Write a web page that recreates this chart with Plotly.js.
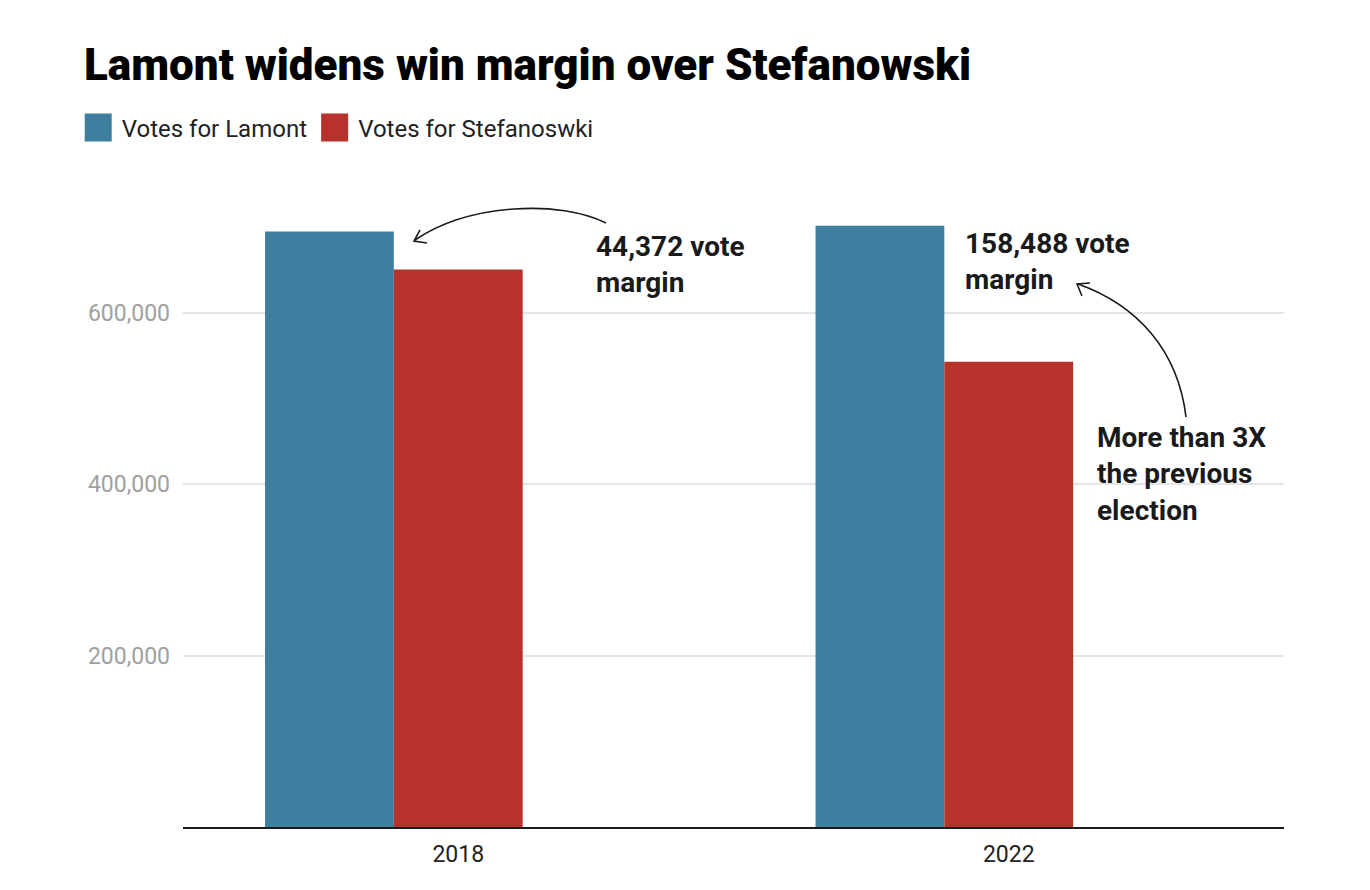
<!DOCTYPE html>
<html>
<head>
<meta charset="utf-8">
<script src="https://cdn.plot.ly/plotly-3.0.1.min.js"></script>
<style>
  html, body { margin: 0; padding: 0; background: #fff; }
  #chart { width: 1370px; height: 890px; }
</style>
</head>
<body>
<div id="chart"></div>
<script>
// election results
var years = ['2018', '2022'];
var lamontVotes = [694510, 701100];
var stefanowskiVotes = [650138, 542612];
var seriesNames = ['Votes for Lamont', 'Votes for Stefanoswki'];
var yTicks = [200000, 400000, 600000];

// plot box in pixels, used to place the hand drawn arrows
var L = 183, R = 1284, T = 141, B = 827;
function pt(x, y) {
  return ((x - L) / (R - L)).toFixed(4) + ',' + ((B - y) / (B - T)).toFixed(4);
}

var lamont = {
  x: years,
  y: lamontVotes,
  type: 'bar',
  name: seriesNames[0],
  width: 0.234,
  offset: -0.351,
  marker: { color: '#3e7fa0' },
  hoverinfo: 'y'
};
var stefanowski = {
  x: years,
  y: stefanowskiVotes,
  type: 'bar',
  name: seriesNames[1],
  width: 0.234,
  offset: -0.117,
  marker: { color: '#b6322a' },
  hoverinfo: 'y'
};

var arrowStyle = { color: '#1a1a1a', width: 1.6 };
var shapes = [
  // 2018 arrow, curving over to the blue bar
  { type: 'path', xref: 'paper', yref: 'paper', line: arrowStyle,
    path: 'M' + pt(606, 223) + ' C' + pt(560, 200) + ' ' + pt(470, 203) + ' ' + pt(415, 240) },
  { type: 'path', xref: 'paper', yref: 'paper', line: arrowStyle,
    path: 'M' + pt(420, 230) + ' L' + pt(414, 241) + ' L' + pt(427, 243) },
  // 2022 arrow, from the note up to the margin label
  { type: 'path', xref: 'paper', yref: 'paper', line: arrowStyle,
    path: 'M' + pt(1186, 417) + ' C' + pt(1178, 350) + ' ' + pt(1137, 305) + ' ' + pt(1078, 284) },
  { type: 'path', xref: 'paper', yref: 'paper', line: arrowStyle,
    path: 'M' + pt(1082, 296) + ' L' + pt(1077, 284) + ' L' + pt(1090, 283) }
];

var noteFont = { family: 'Roboto', size: 28, color: '#1a1a1a', weight: 700 };
var annotations = [
  { xref: 'paper', yref: 'paper', x: 0.373, y: 0.820, xanchor: 'left', yanchor: 'middle',
    align: 'left', showarrow: false, font: noteFont, text: '44,372 vote<br>margin' },
  { xref: 'paper', yref: 'paper', x: 0.708, y: 0.825, xanchor: 'left', yanchor: 'middle',
    align: 'left', showarrow: false, font: noteFont, text: '158,488 vote<br>margin' },
  { xref: 'paper', yref: 'paper', x: 0.828, y: 0.5146, xanchor: 'left', yanchor: 'middle',
    align: 'left', showarrow: false, font: noteFont, text: 'More than 3X<br>the previous<br>election' }
];

var layout = {
  width: 1370,
  height: 890,
  font: { family: 'Roboto, sans-serif', color: '#222' },
  paper_bgcolor: '#fff',
  plot_bgcolor: '#fff',
  title: {
    text: 'Lamont widens win margin over Stefanowski',
    font: { family: 'Roboto', size: 44, weight: 900, color: '#000' },
    xref: 'container', x: 84 / 1370, xanchor: 'left',
    yref: 'container', y: 1 - 49 / 890, yanchor: 'top'
  },
  showlegend: true,
  legend: {
    orientation: 'h',
    x: -0.092, xanchor: 'left',
    y: 1.019, yanchor: 'middle',
    font: { size: 24, color: '#222' },
    traceorder: 'normal'
  },
  barmode: 'group',
  margin: { l: L, r: 1370 - R, t: T, b: 890 - B },
  xaxis: {
    type: 'category',
    showline: true,
    linecolor: '#1a1a1a',
    linewidth: 2,
    ticks: '',
    ticklabelstandoff: 5,
    tickfont: { size: 23, color: '#222' },
    showgrid: false
  },
  yaxis: {
    range: [0, 800000],
    tickvals: yTicks,
    tickformat: ',',
    showgrid: true,
    gridcolor: '#e5e5e5',
    gridwidth: 1.5,
    zeroline: false,
    ticks: '',
    ticklabelstandoff: 12,
    tickfont: { size: 23, color: '#a0a0a0' }
  },
  shapes: shapes,
  annotations: annotations
};

Plotly.newPlot('chart', [lamont, stefanowski], layout, { displayModeBar: false })
  .then(function (gd) {
    // the reference uses big square swatches in the legend
    gd.querySelectorAll('.legend .legendpoints path').forEach(function (p) {
      p.setAttribute('d', 'M10,14H-17V-14H10Z');
    });
    // and a bit more room between the two legend entries
    var items = gd.querySelectorAll('.legend .traces');
    if (items.length > 1) {
      var tr = items[1].getAttribute('transform') || '';
      var m = tr.match(/translate\(\s*([-\d.]+)[ ,]+([-\d.]+)\s*\)/);
      if (m) {
        items[1].setAttribute('transform',
          'translate(' + (parseFloat(m[1]) + 6) + ',' + m[2] + ')');
      }
    }
  });
</script>
</body>
</html>
